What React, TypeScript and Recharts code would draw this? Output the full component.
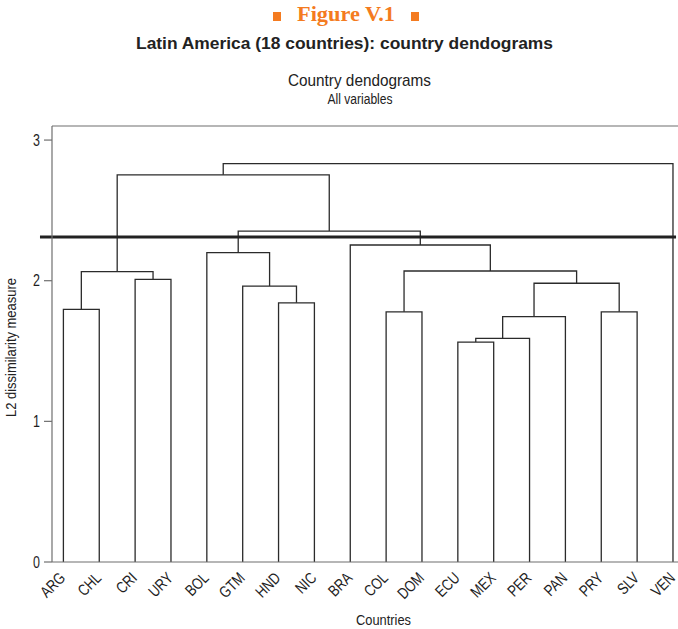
import { ComposedChart, Line, XAxis, YAxis, ReferenceLine } from "recharts";

// leaves, in dendrogram order
const countries = [
  "ARG", "CHL", "CRI", "URY", "BOL", "GTM", "HND", "NIC", "BRA",
  "COL", "DOM", "ECU", "MEX", "PER", "PAN", "PRY", "SLV", "VEN",
];

// hclust-style merge table: negative = leaf (1-based), positive = earlier merge (1-based)
const mergeLeft = [-12, 1, 2, -10, -16, -1, -7, -6, 3, -3, 6, 4, -5, -9, 13, 11, 16];
const mergeRight = [-13, -14, -15, -11, -17, -2, -8, 7, 5, -4, 10, 9, 8, 12, 14, 15, -18];
const mergeHeight = [
  1.564, 1.59, 1.744, 1.779, 1.779, 1.796, 1.843, 1.962, 1.982,
  2.01, 2.064, 2.069, 2.199, 2.254, 2.353, 2.753, 2.832,
];

const yTicks = [0, 1, 2, 3];
const cutHeight = 2.31;

const X_MIN = -0.318;
const X_MAX = 17.14;
const Y_MAX = 3.1;

const INK = "#2b2b2b";
const AXIS = "#6f6f6f";
const SANS = "'Liberation Sans', Arial, Helvetica, sans-serif";

type Pt = { x: number; y: number };

// each merge becomes one bracket: up from the left child, across, down to the right child
function buildLinks(): Pt[][] {
  const nodes: { x: number; h: number }[] = [];
  const get = (id: number) => (id < 0 ? { x: -id - 1, h: 0 } : nodes[id - 1]);
  return mergeLeft.map((l, i) => {
    const a = get(l);
    const b = get(mergeRight[i]);
    const h = mergeHeight[i];
    nodes.push({ x: (a.x + b.x) / 2, h });
    return [
      { x: a.x, y: a.h },
      { x: a.x, y: h },
      { x: b.x, y: h },
      { x: b.x, y: b.h },
    ];
  });
}

const links = buildLinks();

function XTick({ x, y, payload }: any) {
  const ax = x + 3;
  const ay = y + 17;
  return (
    <text
      transform={`translate(${ax},${ay}) rotate(-45) scale(0.8,1)`}
      textAnchor="end"
      fontSize={16}
      fontFamily={SANS}
      fill="#1e1e1e"
    >
      {countries[payload.value]}
    </text>
  );
}

function YTick({ x, y, payload }: any) {
  return (
    <text
      transform={`translate(${x},${y}) scale(0.78,1)`}
      textAnchor="end"
      dy="0.36em"
      fontSize={16}
      fontFamily={SANS}
      fill="#1e1e1e"
    >
      {payload.value}
    </text>
  );
}

export default function App() {
  return (
    <div style={{ position: "relative", width: 678, height: 629, background: "#fff" }}>
      <style>{`body{margin:0}`}</style>
      <div style={{ position: "absolute", left: 0, top: 0 }}>
        <ComposedChart width={678} height={629} margin={{ top: 126, right: 0, bottom: 0, left: 0 }}>
          <XAxis
            type="number"
            dataKey="x"
            domain={[X_MIN, X_MAX]}
            allowDataOverflow
            ticks={countries.map((_, i) => i)}
            interval={0}
            height={67}
            tickSize={0}
            tickMargin={0}
            tickLine={false}
            axisLine={{ stroke: AXIS, strokeWidth: 1.2 }}
            tick={XTick}
          />
          <YAxis
            type="number"
            domain={[0, Y_MAX]}
            allowDataOverflow
            ticks={yTicks}
            width={52}
            tickSize={8}
            tickMargin={4}
            tickLine={{ stroke: AXIS, strokeWidth: 1.2 }}
            axisLine={{ stroke: AXIS, strokeWidth: 1.2 }}
            tick={YTick}
          />
          <ReferenceLine y={Y_MAX} stroke={AXIS} strokeWidth={1.2} />
          {links.map((pts, i) => (
            <Line
              key={i}
              data={pts}
              dataKey="y"
              type="linear"
              stroke={INK}
              strokeWidth={1.3}
              dot={false}
              activeDot={false}
              isAnimationActive={false}
            />
          ))}
          <ReferenceLine
            segment={[
              { x: -0.653, y: cutHeight },
              { x: 17.085, y: cutHeight },
            ]}
            ifOverflow="visible"
            stroke="#222"
            strokeWidth={3}
          />
        </ComposedChart>
      </div>
      <svg
        width={678}
        height={629}
        style={{ position: "absolute", left: 0, top: 0, pointerEvents: "none" }}
      >
        <rect x={273} y={12} width={8} height={9} fill="#F47B20" />
        <rect x={411} y={12} width={8} height={9} fill="#F47B20" />
        <text
          x={346}
          y={21}
          textAnchor="middle"
          fontFamily="'Liberation Serif', 'Times New Roman', serif"
          fontWeight="bold"
          fontSize={20}
          fill="#F47B20"
          textLength={98}
          lengthAdjust="spacingAndGlyphs"
        >
          Figure V.1
        </text>
        <text
          x={344.5}
          y={49}
          textAnchor="middle"
          fontFamily={SANS}
          fontWeight="bold"
          fontSize={16}
          fill="#222"
          textLength={417}
          lengthAdjust="spacingAndGlyphs"
        >
          Latin America (18 countries): country dendograms
        </text>
        <text
          x={359.5}
          y={86}
          textAnchor="middle"
          fontFamily={SANS}
          fontSize={17}
          fill="#222"
          textLength={143}
          lengthAdjust="spacingAndGlyphs"
        >
          Country dendograms
        </text>
        <text
          x={360}
          y={104}
          textAnchor="middle"
          fontFamily={SANS}
          fontSize={14}
          fill="#222"
          textLength={65}
          lengthAdjust="spacingAndGlyphs"
        >
          All variables
        </text>
        <text
          x={383.5}
          y={625}
          textAnchor="middle"
          fontFamily={SANS}
          fontSize={15}
          fill="#222"
          textLength={55}
          lengthAdjust="spacingAndGlyphs"
        >
          Countries
        </text>
        <text
          transform="translate(16,347.5) rotate(-90)"
          textAnchor="middle"
          fontFamily={SANS}
          fontSize={15}
          fill="#222"
          textLength={139}
          lengthAdjust="spacingAndGlyphs"
        >
          L2 dissimilarity measure
        </text>
      </svg>
    </div>
  );
}
